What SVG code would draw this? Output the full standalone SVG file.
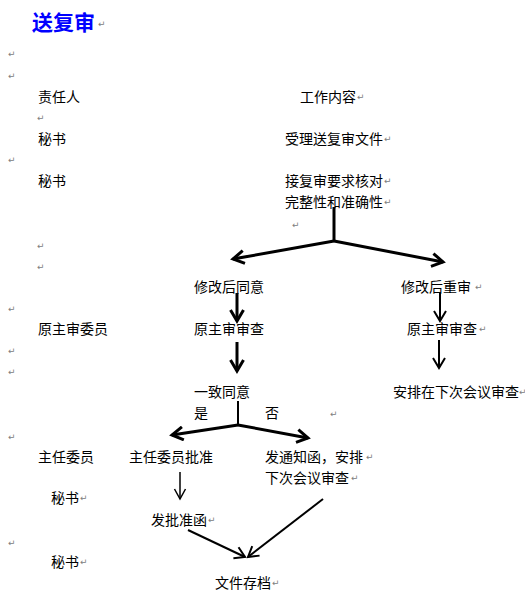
<svg xmlns="http://www.w3.org/2000/svg" width="525" height="600" viewBox="0 0 525 600">
<style>
.t{font-family:"Noto Sans CJK SC","Noto Sans CJK TC",sans-serif;font-size:14px;fill:#000}
.h{font-family:"Noto Sans CJK SC",sans-serif;font-size:21px;font-weight:bold;fill:#0000FF}
.p{font-family:"DejaVu Sans",sans-serif;font-size:9px;fill:#808080}
.c{fill:none;stroke:#000;stroke-linecap:butt}
.k{stroke-width:3}
.m{stroke-width:2}
.n{stroke-width:1.5}
</style>
<defs>
<marker id="ak" markerUnits="userSpaceOnUse" markerWidth="16" markerHeight="16" refX="13" refY="8" orient="auto"><path d="M2,1.5 L13,8 L2,14.5" fill="none" stroke="#000" stroke-width="3"/></marker>
<marker id="am" markerUnits="userSpaceOnUse" markerWidth="16" markerHeight="16" refX="13" refY="8" orient="auto"><path d="M3,2 L13,8 L3,14" fill="none" stroke="#000" stroke-width="2"/></marker>
<marker id="an" markerUnits="userSpaceOnUse" markerWidth="16" markerHeight="16" refX="13" refY="8" orient="auto"><path d="M3,2.5 L13,8 L3,13.5" fill="none" stroke="#000" stroke-width="1.5"/></marker>
</defs>
<rect width="525" height="600" fill="#fff"/>
<g id="title"><text class="h" x="32" y="30">送复审</text><text class="p" x="98" y="27">↵</text></g>
<g id="marks">
<text class="p" x="8" y="57">↵</text>
<text class="p" x="8" y="79">↵</text>
<text class="p" x="37" y="121">↵</text>
<text class="p" x="8" y="163">↵</text>
<text class="p" x="292" y="228">↵</text>
<text class="p" x="37" y="249">↵</text>
<text class="p" x="37" y="270">↵</text>
<text class="p" x="8" y="312">↵</text>
<text class="p" x="8" y="354">↵</text>
<text class="p" x="8" y="375">↵</text>
<text class="p" x="330" y="417">↵</text>
<text class="p" x="8" y="440">↵</text>
<text class="p" x="8" y="546">↵</text>
</g>
<g id="col-role"><text class="t" x="38" y="102">责任人</text></g>
<g id="col-work"><text class="t" x="300" y="102">工作内容</text><text class="p" x="357" y="100">↵</text></g>
<g id="role1"><text class="t" x="38" y="144">秘书</text></g>
<g id="work1"><text class="t" x="285" y="144">受理送复审文件</text><text class="p" x="384" y="142">↵</text></g>
<g id="role2"><text class="t" x="38" y="186">秘书</text></g>
<g id="work2"><text class="t" x="285" y="186">接复审要求核对</text><text class="p" x="384" y="184">↵</text><text class="t" x="285" y="207">完整性和准确性</text><text class="p" x="384" y="205">↵</text></g>
<g id="agree-mod"><text class="t" x="194" y="292">修改后同意</text></g>
<g id="rereview"><text class="t" x="401" y="292">修改后重审</text><text class="p" x="475" y="290">↵</text></g>
<g id="role3"><text class="t" x="38" y="334">原主审委员</text></g>
<g id="review-l"><text class="t" x="194" y="334">原主审审查</text></g>
<g id="review-r"><text class="t" x="407" y="334">原主审审查</text><text class="p" x="479" y="332">↵</text></g>
<g id="consensus"><text class="t" x="194" y="397">一致同意</text><text class="t" x="194" y="418">是</text><text class="t" x="265" y="418">否</text></g>
<g id="next-meeting"><text class="t" x="393" y="397">安排在下次会议审查</text><text class="p" x="519" y="395">↵</text></g>
<g id="role4"><text class="t" x="38" y="462">主任委员</text></g>
<g id="approve"><text class="t" x="129" y="462">主任委员批准</text></g>
<g id="notice"><text class="t" x="265" y="462">发通知函，安排</text><text class="p" x="366" y="460">↵</text><text class="t" x="265" y="483">下次会议审查</text><text class="p" x="351" y="481">↵</text></g>
<g id="role5"><text class="t" x="51" y="503">秘书</text><text class="p" x="80" y="501">↵</text></g>
<g id="letter"><text class="t" x="151" y="525">发批准函</text><text class="p" x="208" y="523">↵</text></g>
<g id="role6"><text class="t" x="51" y="567">秘书</text><text class="p" x="80" y="565">↵</text></g>
<g id="archive"><text class="t" x="215" y="588">文件存档</text><text class="p" x="272" y="586">↵</text></g>
<g id="connectors">
<path class="c k" d="M334,207 L334,241"/>
<path class="c k" d="M334,241 L233,259" marker-end="url(#ak)"/>
<path class="c k" d="M334,241 L443,262" marker-end="url(#ak)"/>
<path class="c k" d="M237,293 L237,321" marker-end="url(#ak)"/>
<path class="c m" d="M440,293 L440,321" marker-end="url(#am)"/>
<path class="c k" d="M237,342 L237,371" marker-end="url(#ak)"/>
<path class="c m" d="M439,340 L439,368" marker-end="url(#am)"/>
<path class="c m" d="M238,401 L238,425"/>
<path class="c k" d="M238,425 L172,435" marker-end="url(#ak)"/>
<path class="c k" d="M238,425 L308,438" marker-end="url(#ak)"/>
<path class="c n" d="M180,472 L180,499" marker-end="url(#an)"/>
<path class="c m" d="M188,530 L245,557" marker-end="url(#am)"/>
<path class="c m" d="M323,499 L248,557" marker-end="url(#am)"/>
</g>
</svg>
